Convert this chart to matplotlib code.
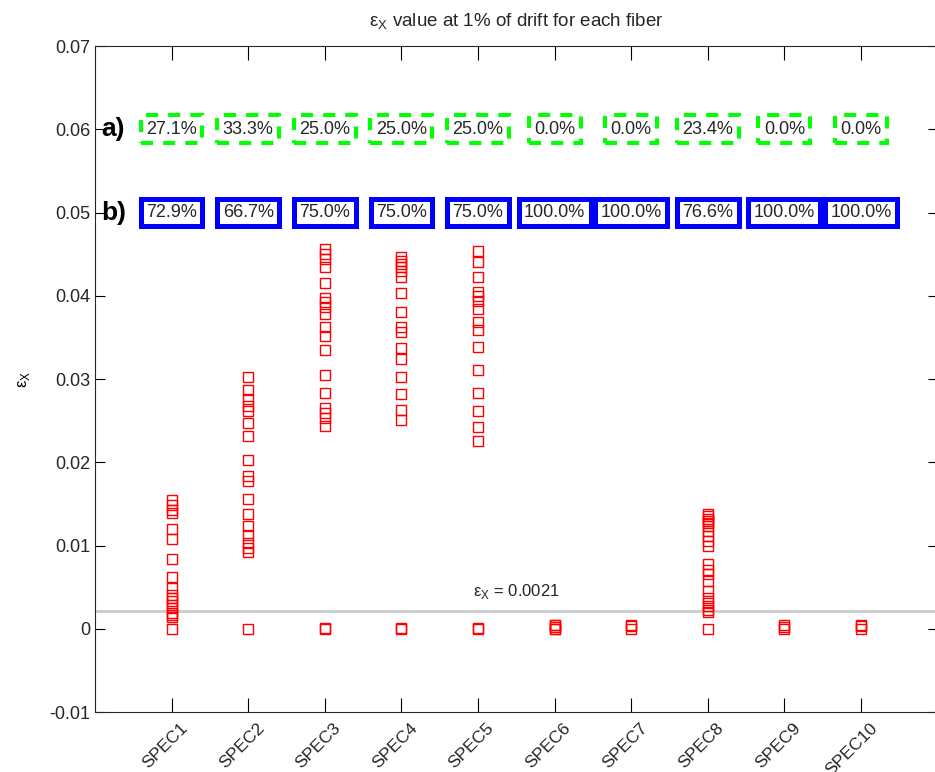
import matplotlib.pyplot as plt
from matplotlib.transforms import ScaledTranslation

plt.rcParams['font.family'] = ['Liberation Sans', 'DejaVu Sans']
plt.rcParams['mathtext.fontset'] = 'custom'
plt.rcParams['mathtext.rm'] = 'Liberation Sans'

specs = ['SPEC1', 'SPEC2', 'SPEC3', 'SPEC4', 'SPEC5',
         'SPEC6', 'SPEC7', 'SPEC8', 'SPEC9', 'SPEC10']

# percentages in the boxes, rows a) and b)
pct_a = [27.1, 33.3, 25.0, 25.0, 25.0, 0.0, 0.0, 23.4, 0.0, 0.0]
pct_b = [72.9, 66.7, 75.0, 75.0, 75.0, 100.0, 100.0, 76.6, 100.0, 100.0]

threshold = 0.0021

# eps_x values per fiber
spec1 = [0.0155, 0.0149, 0.0143, 0.0139, 0.0120, 0.0108, 0.0084, 0.0062,
         0.0049, 0.0041, 0.0037, 0.0033, 0.0029, 0.0025, 0.0019, 0.0016,
         0.0014, 0.0]
spec2 = [0.0302, 0.0287, 0.0276, 0.0267, 0.0261, 0.0247, 0.0232, 0.0203,
         0.0183, 0.0177, 0.0156, 0.0138, 0.0123, 0.0113, 0.0103, 0.0097,
         0.0092, 0.0]
spec3 = [0.0456, 0.0450, 0.0444, 0.0435, 0.0415, 0.0397, 0.0392, 0.0386,
         0.0378, 0.0363, 0.0352, 0.0335, 0.0305, 0.0283, 0.0265, 0.0259,
         0.0253, 0.0244, 0.0, 0.0001]
spec4 = [0.0446, 0.0442, 0.0438, 0.0434, 0.0430, 0.0422, 0.0403, 0.0380,
         0.0362, 0.0356, 0.0337, 0.0324, 0.0302, 0.0282, 0.0263, 0.0251,
         0.0, 0.0001]
spec5 = [0.0454, 0.0441, 0.0422, 0.0405, 0.0400, 0.0394, 0.0384, 0.0368,
         0.0359, 0.0339, 0.0311, 0.0283, 0.0261, 0.0242, 0.0225, 0.0,
         0.0001]
spec6 = [0.0, 0.0, 0.0002, 0.0004, 0.0005]
spec7 = [0.0, 0.0003, 0.0005]
spec8 = [0.0138, 0.0135, 0.0132, 0.0130, 0.0127, 0.0124, 0.0118, 0.0111,
         0.0105, 0.0100, 0.0078, 0.0071, 0.0066, 0.0057, 0.0045, 0.0037,
         0.0031, 0.0027, 0.0023, 0.0020, 0.0]
spec9 = [0.0, 0.0002, 0.0004]
spec10 = [0.0, 0.0003, 0.0005]
eps_values = [spec1, spec2, spec3, spec4, spec5,
              spec6, spec7, spec8, spec9, spec10]

yticks = [-0.01, 0, 0.01, 0.02, 0.03, 0.04, 0.05, 0.06, 0.07]
ytick_labels = ['-0.01', '0', '0.01', '0.02', '0.03', '0.04', '0.05', '0.06', '0.07']

fig = plt.figure(figsize=(9.35, 7.72), dpi=100)
ax = fig.add_axes([0.1016, 0.0777, 0.9012, 0.8627])

ax.axhline(threshold, color='#cccccc', lw=2, zorder=1)
ax.text(5.5, 0.0033, 'ε$_{\\mathregular{X}}$ = 0.0021', ha='center',
        va='bottom', fontsize=12, color='#262626')

for i, vals in enumerate(eps_values):
    ax.plot([i + 1] * len(vals), vals, 's', mfc='none', mec='red',
            ms=6.6, mew=1.0, zorder=3)

for i in range(len(specs)):
    ax.text(i + 1, 0.06, f'{pct_a[i]:.1f}%', ha='center', va='center',
            fontsize=13, color='#262626',
            bbox=dict(boxstyle='square,pad=0.3', fc='white', ec='#00ff00',
                      lw=2.9, ls=(0, (3, 2.5))))
    ax.text(i + 1, 0.05, f'{pct_b[i]:.1f}%', ha='center', va='center',
            fontsize=13, color='#262626',
            bbox=dict(boxstyle='square,pad=0.3', fc='white', ec='blue',
                      lw=3.6))

ax.text(0.08, 0.06, 'a)', ha='left', va='center', fontsize=19,
        fontweight='bold')
ax.text(0.08, 0.05, 'b)', ha='left', va='center', fontsize=19,
        fontweight='bold')

ax.set_xlim(0, 11)
ax.set_ylim(-0.01, 0.07)
ax.set_yticks(yticks)
ax.set_yticklabels(ytick_labels, fontsize=13, color='#262626')
ax.set_xticks(range(1, len(specs) + 1))
ax.set_xticklabels(specs, rotation=45, ha='right', rotation_mode='anchor',
                   fontsize=12.5, color='#262626')
ax.tick_params(axis='x', direction='in', length=10, top=True, pad=6)
ax.tick_params(axis='y', direction='in', length=7, right=True)
shift = ScaledTranslation(6 / 72, 0, fig.dpi_scale_trans)
for lab in ax.get_xticklabels():
    lab.set_transform(lab.get_transform() + shift)
for sp in ax.spines.values():
    sp.set_color('#262626')

ax.set_title('ε$_{\\mathregular{X}}$ value at 1% of drift for each fiber',
             fontsize=13.5, pad=14, color='#262626')
ax.set_ylabel('ε$_{\\mathregular{X}}$', fontsize=12, labelpad=12)

fig.savefig('out.png', dpi=100)
